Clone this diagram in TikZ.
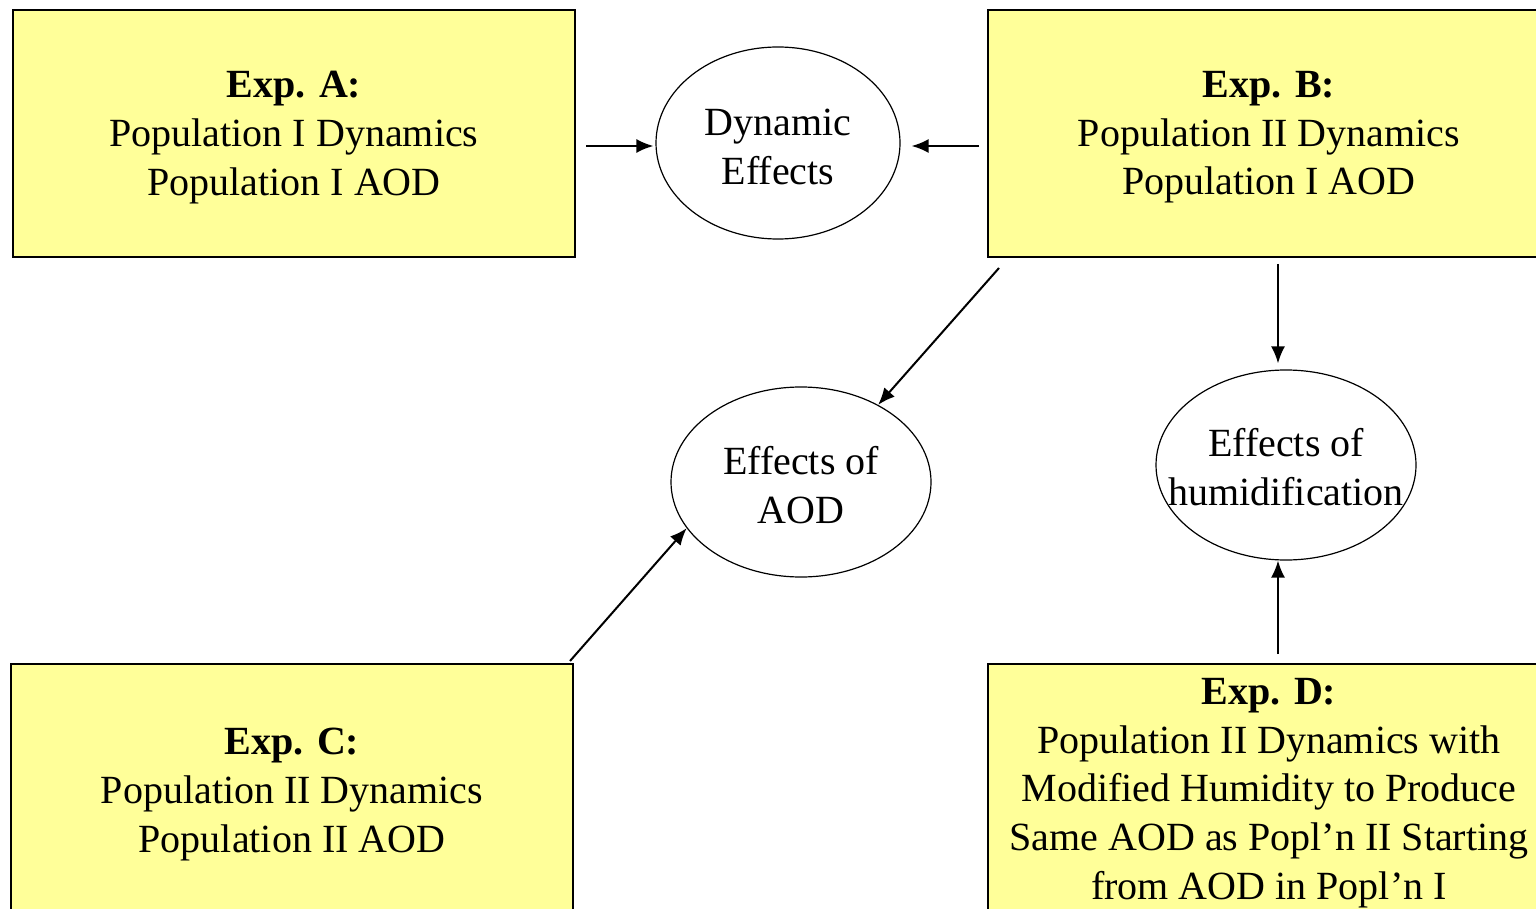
\documentclass[tikz,border=0pt]{standalone}
\usepackage{fontspec}
\setmainfont{Liberation Serif}
\usetikzlibrary{shapes.geometric,arrows.meta,calc}
\definecolor{boxyellow}{RGB}{255,255,153}
\begin{document}
\begin{tikzpicture}[x=0.5pt,y=-0.5pt,
  expbox/.style={draw=black, line width=1pt, fill=boxyellow, minimum width=281pt,
    minimum height=123.5pt, inner sep=0pt},
  effect/.style={draw=black, line width=0.6pt, ellipse, inner sep=0pt,
    minimum width=130pt, minimum height=95pt},
  txt/.style={inner sep=0pt, align=center, font=\fontsize{20}{24.3}\selectfont},
  arr/.style={line width=1pt, -{Latex[length=8.5pt,width=7pt]}}]
\useasboundingbox (0,0) rectangle (1536,909);
\clip (0,0) rectangle (1536,909);

\node[expbox] (A) at (294,133.5) {};
\node[txt] (At) at ($(A)+(0,4)$) {\textbf{Exp. A:}\\Population I Dynamics\\Population I AOD};
\node[expbox] (B) at (1269,133.5) {};
\node[txt] (Bt) at ($(B)+(0,4)$) {\textbf{Exp. B:}\\Population II Dynamics\\Population I AOD};
\node[expbox] (C) at (292,787.5) {};
\node[txt] (Ct) at ($(C)+(0,7)$) {\textbf{Exp. C:}\\Population II Dynamics\\Population II AOD};
\node[expbox, minimum height=125pt] (D) at (1269,789) {};
\node[txt] (Dt) at ($(D)+(0,4)$) {\textbf{Exp. D:}\\Population II Dynamics with\\Modified Humidity to Produce\\Same AOD as Popl’n II Starting\\from AOD in Popl’n I};

\node[effect, minimum width=122pt, minimum height=96pt] (dyn) at (778,143) {};
\node[txt] (dynt) at ($(dyn)+(0,4)$) {Dynamic\\Effects};
\node[effect] (aod) at (801,482) {};
\node[txt] (aodt) at ($(aod)+(0,3)$) {Effects of\\AOD};
\node[effect] (hum) at (1286,465) {};
\node[txt] (humt) at ($(hum)+(0,2)$) {Effects of\\humidification};

\coordinate (a1) at ($(A.east)+(10,12.5)$);
\coordinate (d1) at ($(dyn.west)+(-2,3)$);
\draw[arr] (a1) -- (d1);

\coordinate (b1) at ($(B.west)+(-8,12.5)$);
\coordinate (d2) at ($(dyn.east)+(11,3)$);
\draw[arr] (b1) -- (d2);

\coordinate (b2) at ($(B.south west)+(12,10)$);
\draw[arr] (b2) -- (aod.45);

\coordinate (b3) at ($(B.south)+(9,6)$);
\coordinate (h1) at ($(hum.north)+(-8,-6)$);
\draw[arr] (b3) -- (h1);

\coordinate (c1) at ($(C.north east)+(-4,-2)$);
\draw[arr] (c1) -- (aod.202);

\coordinate (dd) at ($(D.north)+(9,-9)$);
\coordinate (h2) at ($(hum.south)+(-8,0)$);
\draw[arr] (dd) -- (h2);
\end{tikzpicture}
\end{document}
